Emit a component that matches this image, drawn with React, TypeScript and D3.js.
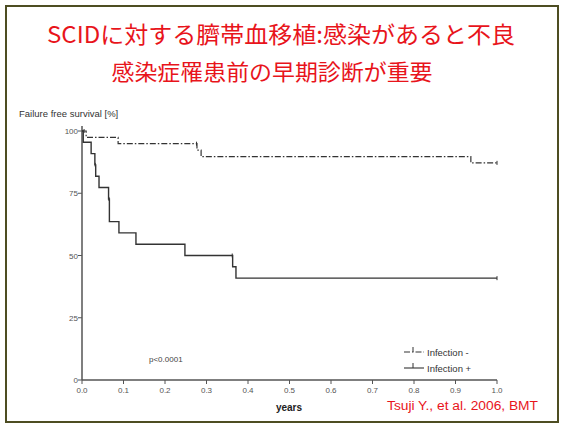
import * as d3 from "d3";

// Kaplan-Meier steps: [years, survival %]
const infNegTimes = [0, 0.01, 0.087, 0.277, 0.287, 0.937, 1.0];
const infNegSurv = [100, 97.4, 94.9, 92.3, 89.7, 87.2, 87.2];
const infPosTimes = [0, 0.003, 0.022, 0.031, 0.033, 0.041, 0.064, 0.066, 0.089, 0.13, 0.248, 0.363, 0.371, 1.0];
const infPosSurv = [100, 95.5, 90.9, 86.4, 81.8, 77.3, 72.7, 63.6, 59.1, 54.5, 50, 45.5, 40.9, 40.9];
const infNegCensor = [0.005, 0.276, 1.0];
const infPosCensor = [0.032, 0.065, 0.362, 1.0];

const yTicks = [0, 25, 50, 75, 100];
const xTicks = [0, 0.1, 0.2, 0.3, 0.4, 0.5, 0.6, 0.7, 0.8, 0.9, 1.0];

const title1 = "SCIDに対する臍帯血移植:感染があると不良";
const title2 = "感染症罹患前の早期診断が重要";
const legendLabels = ["Infection -", "Infection +"];

const W = 562;
const H = 425;
const x = d3.scaleLinear().domain([0, 1]).range([82, 497]);
const y = d3.scaleLinear().domain([0, 100]).range([380, 131]);

const stepLine = d3
  .line<[number, number]>()
  .x((d) => x(d[0]))
  .y((d) => y(d[1]))
  .curve(d3.curveStepAfter);

const survAt = (times: number[], surv: number[], t: number) => {
  let v = surv[0];
  times.forEach((tt, i) => {
    if (tt <= t) v = surv[i];
  });
  return v;
};

const axisColor = "#555";
const lineColor = "#333";
const labelFont = "Arial, 'Liberation Sans', sans-serif";
const cjkFont = "'Noto Sans CJK JP', sans-serif";

export default function App() {
  const negPts = infNegTimes.map((t, i) => [t, infNegSurv[i]] as [number, number]);
  const posPts = infPosTimes.map((t, i) => [t, infPosSurv[i]] as [number, number]);
  return (
    <svg width={W} height={H} style={{ position: "absolute", left: 0, top: 0 }}>
      <rect x={0} y={0} width={W} height={H} fill="#fff" />
      <rect x={6} y={6} width={552} height={416} fill="#fff" stroke="#4d4d22" strokeWidth={2} />
      <text x={281} y={43} textAnchor="middle" fill="#e8141b" fontSize={23} fontFamily={cjkFont}
        textLength={468} lengthAdjust="spacingAndGlyphs">{title1}</text>
      <text x={272} y={80} textAnchor="middle" fill="#e8141b" fontSize={22} fontFamily={cjkFont}
        textLength={321} lengthAdjust="spacingAndGlyphs">{title2}</text>

      <text x={19} y={117} fontSize={9.5} fontFamily={labelFont} fill="#333">Failure free survival [%]</text>

      {/* axes */}
      <line x1={x(0)} x2={x(0)} y1={126} y2={y(0)} stroke={axisColor} strokeWidth={1.5} />
      <line x1={x(0)} x2={x(1)} y1={y(0)} y2={y(0)} stroke={axisColor} strokeWidth={1.5} />
      {yTicks.map((v) => (
        <g key={"y" + v}>
          <line x1={x(0) - 4} x2={x(0)} y1={y(v)} y2={y(v)} stroke={axisColor} />
          <text x={x(0) - 4} y={y(v) + 3} textAnchor="end" fontSize={8} fontFamily={labelFont} fill="#555">{v}</text>
        </g>
      ))}
      {xTicks.map((v) => (
        <g key={"x" + v}>
          <line x1={x(v)} x2={x(v)} y1={y(0)} y2={y(0) + 4} stroke={axisColor} />
          <text x={x(v)} y={393} textAnchor="middle" fontSize={8} fontFamily={labelFont} fill="#555">{v.toFixed(1)}</text>
        </g>
      ))}
      <text x={289} y={411} textAnchor="middle" fontSize={10} fontWeight="bold" fontFamily={labelFont} fill="#222">years</text>

      {/* curves */}
      <path d={stepLine(negPts) ?? ""} fill="none" stroke={lineColor} strokeWidth={1.2} strokeDasharray="6,2,1.5,2" />
      <path d={stepLine(posPts) ?? ""} fill="none" stroke={lineColor} strokeWidth={1.4} />
      {infNegCensor.map((t, i) => {
        const v = survAt(infNegTimes, infNegSurv, t);
        return <line key={"nc" + i} x1={x(t)} x2={x(t)} y1={y(v) - 2} y2={y(v) + 2} stroke={lineColor} />;
      })}
      {infPosCensor.map((t, i) => {
        const v = survAt(infPosTimes, infPosSurv, t);
        return <line key={"pc" + i} x1={x(t)} x2={x(t)} y1={y(v) - 2} y2={y(v) + 2} stroke={lineColor} />;
      })}

      <text x={149} y={362} fontSize={8} fontFamily={labelFont} fill="#444">p&lt;0.0001</text>

      {/* legend */}
      {legendLabels.map((lab, i) => {
        const ly = 352 + i * 16;
        return (
          <g key={lab}>
            <line x1={404} x2={424} y1={ly} y2={ly} stroke={lineColor} strokeWidth={1.1}
              strokeDasharray={i === 0 ? "6,2,1.5,2" : undefined} />
            <line x1={413} x2={413} y1={ly - 5} y2={ly} stroke={lineColor} />
            <text x={427} y={ly + 3.5} fontSize={9.5} fontFamily={labelFont} fill="#333">{lab}</text>
          </g>
        );
      })}

      <text x={387} y={410} fontSize={12} fontFamily={labelFont} fill="#e8141b"
        textLength={151} lengthAdjust="spacingAndGlyphs">Tsuji Y., et al. 2006, BMT</text>
    </svg>
  );
}
